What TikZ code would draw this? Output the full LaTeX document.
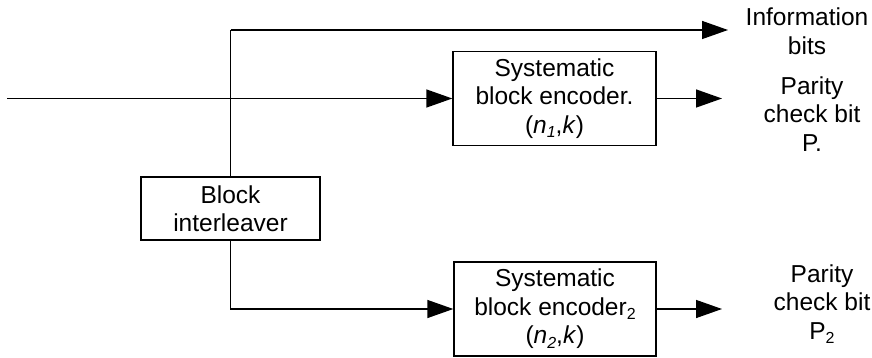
\documentclass[tikz,border=0pt]{standalone}
\usepackage{fontspec}
\setmainfont{Liberation Sans}
\usetikzlibrary{arrows.meta}
\newcommand{\mysub}[1]{\raisebox{-0.35ex}{\fontsize{16}{16}\selectfont #1}}
\begin{document}
\begin{tikzpicture}[x=1pt,y=-1pt,
  box/.style={draw,line width=1.4pt,rectangle,align=center,inner sep=0pt,
    font=\fontsize{24.5}{28.5}\selectfont},
  lbl/.style={align=center,inner sep=0pt,font=\fontsize{24.5}{28.5}\selectfont},
  conn/.style={line width=1.4pt,-{Triangle[length=26pt,width=18pt]}},
  plain/.style={line width=1.4pt}]
\useasboundingbox (0,0) rectangle (872,358);
\node[box,minimum width=179pt,minimum height=63pt] (inter) at (230.5,208.5) {Block\\interleaver};
\node[box,minimum width=203pt,minimum height=94pt] (enc1) at (554.5,98.5)
  {Systematic\\block encoder.\\(\textit{n}\mysub{\itshape 1},\textit{k})};
\node[box,minimum width=202pt,minimum height=94pt] (enc2) at (555,309)
  {Systematic\\block encoder\mysub{2}\\(\textit{n}\mysub{\itshape 2},\textit{k})};
\coordinate (in) at (7,98.5);
\coordinate (top) at (230.5,30);
\coordinate (infotip) at (728,30);
\coordinate (p1tip) at (722,98.5);
\coordinate (p2tip) at (722,309);
\node[lbl] (info) at (807,31) {Information\\bits};
\node[lbl] (p1) at (812,114) {Parity\\check bit\\P.};
\node[lbl] (p2) at (822,304) {Parity\\check bit\\P\mysub{2}};
\draw[conn] (in) -- (enc1.west);
\draw[plain] (inter.north) -- (top);
\draw[conn] (top) -- (infotip);
\draw[conn] (inter.south) |- (enc2.west);
\draw[conn] (enc1.east) -- (p1tip);
\draw[conn] (enc2.east) -- (p2tip);
\end{tikzpicture}
\end{document}
